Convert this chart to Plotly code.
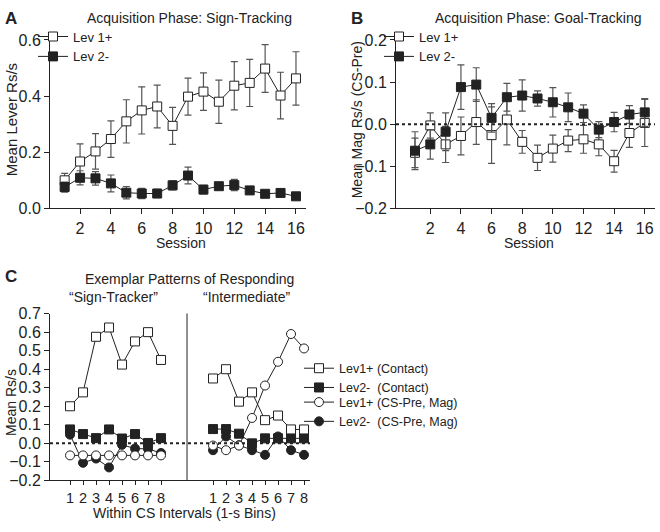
import plotly.graph_objects as go

W, H = 660, 532

# ---- Panel A: sign-tracking (mean lever Rs/s) ----
sessions = list(range(1, 17))
a_lev1 = [0.100, 0.167, 0.203, 0.247, 0.310, 0.349, 0.363, 0.294,
          0.398, 0.416, 0.380, 0.437, 0.447, 0.498, 0.402, 0.463]
a_lev1_err = [0.025, 0.063, 0.063, 0.065, 0.077, 0.084, 0.076, 0.066,
              0.066, 0.067, 0.077, 0.086, 0.084, 0.085, 0.083, 0.095]
a_lev2 = [0.076, 0.109, 0.107, 0.089, 0.056, 0.053, 0.053, 0.082,
          0.117, 0.067, 0.079, 0.083, 0.064, 0.052, 0.055, 0.043]
a_lev2_err = [0.018, 0.025, 0.024, 0.030, 0.022, 0.018, 0.015, 0.016,
              0.030, 0.015, 0.010, 0.020, 0.008, 0.010, 0.007, 0.005]

# ---- Panel B: goal-tracking (mean mag Rs/s, CS-Pre) ----
b_lev1 = [-0.068, -0.003, -0.048, -0.028, 0.005, -0.026, 0.011, -0.042,
          -0.080, -0.058, -0.039, -0.036, -0.048, -0.088, -0.021, 0.003]
b_lev1_err = [0.035, 0.030, 0.043, 0.045, 0.053, 0.067, 0.060, 0.027,
              0.030, 0.032, 0.026, 0.033, 0.027, 0.026, 0.034, 0.056]
b_lev2 = [-0.063, -0.048, -0.018, 0.088, 0.094, 0.015, 0.064, 0.068,
          0.061, 0.052, 0.040, 0.025, -0.013, 0.005, 0.023, 0.028]
b_lev2_err = [0.045, 0.035, 0.045, 0.053, 0.040, 0.034, 0.033, 0.037,
              0.018, 0.035, 0.034, 0.021, 0.019, 0.023, 0.021, 0.033]

# ---- Panel C: exemplar patterns (1-s bins) ----
bins = [1, 2, 3, 4, 5, 6, 7, 8]
group_offset = 11  # "Intermediate" block sits to the right of "Sign-Tracker"
st_lev1_contact = [0.20, 0.275, 0.575, 0.625, 0.425, 0.55, 0.60, 0.45]
st_lev2_contact = [0.075, 0.05, 0.028, 0.075, 0.026, 0.05, 0.002, 0.028]
st_lev1_mag = [-0.065, -0.065, -0.065, -0.065, -0.065, -0.065, -0.065, -0.065]
st_lev2_mag = [0.047, -0.105, -0.082, -0.13, -0.008, -0.028, -0.03, -0.052]
int_lev1_contact = [0.35, 0.40, 0.225, 0.275, 0.125, 0.15, 0.075, 0.075]
int_lev2_contact = [0.077, 0.077, 0.052, 0.0, 0.027, 0.027, 0.027, 0.027]
int_lev1_mag = [-0.012, -0.037, -0.012, 0.137, 0.312, 0.44, 0.59, 0.512]
int_lev2_mag = [-0.037, 0.037, -0.01, -0.037, -0.062, 0.037, -0.037, -0.062]

INK = "#222222"
ERR = "#555555"
FONT = "Liberation Sans, Arial, sans-serif"


def px_x(p):
    return p / W


def px_y(p):
    return 1 - p / H


def session_trace(y, err, filled, name, xa, ya, legend):
    return go.Scatter(
        x=sessions, y=y, name=name, mode="lines+markers",
        xaxis=xa, yaxis=ya, legend=legend, cliponaxis=False,
        line=dict(color=INK, width=1),
        marker=dict(symbol="square", size=9,
                    color=INK if filled else "white",
                    line=dict(color=INK, width=1)),
        error_y=dict(type="data", array=err, color=ERR, thickness=1.2, width=3.5),
    )


def c_trace(left, right, symbol, filled, name, legend, rank):
    xs = bins + [None] + [b + group_offset for b in bins]
    ys = left + [None] + right
    return go.Scatter(
        x=xs, y=ys, name=name, mode="lines+markers",
        xaxis="x3", yaxis="y3", legend=legend, legendrank=rank,
        cliponaxis=False, connectgaps=False,
        line=dict(color=INK, width=1),
        marker=dict(symbol=symbol, size=9,
                    color=INK if filled else "white",
                    line=dict(color=INK, width=1)),
    )


traces = [
    session_trace(a_lev1, a_lev1_err, False, "Lev 1+", "x", "y", "legend"),
    session_trace(a_lev2, a_lev2_err, True, "Lev 2-", "x", "y", "legend"),
    session_trace(b_lev1, b_lev1_err, False, "Lev 1+", "x2", "y2", "legend2"),
    session_trace(b_lev2, b_lev2_err, True, "Lev 2-", "x2", "y2", "legend2"),
    c_trace(st_lev2_mag, int_lev2_mag, "circle", True,
            "Lev2-\u00a0 (CS-Pre, Mag)", "legend4", 2),
    c_trace(st_lev1_mag, int_lev1_mag, "circle", False,
            "Lev1+ (CS-Pre, Mag)", "legend4", 1),
    c_trace(st_lev2_contact, int_lev2_contact, "square", True,
            "Lev2-\u00a0 (Contact)", "legend3", 2),
    c_trace(st_lev1_contact, int_lev1_contact, "square", False,
            "Lev1+ (Contact)", "legend3", 1),
]

fig = go.Figure(data=traces)

axis_common = dict(
    showline=True, linecolor=INK, linewidth=1, ticks="outside", ticklen=5,
    tickcolor=INK, tickwidth=1, showgrid=False, zeroline=False,
    tickfont=dict(size=16, color=INK, family=FONT),
)

legend_common = dict(
    bgcolor="rgba(0,0,0,0)", borderwidth=0, xanchor="left", yanchor="top",
    tracegroupgap=0, itemsizing="trace",
)

fig.update_layout(
    width=W, height=H,
    margin=dict(l=0, r=0, t=0, b=0),
    paper_bgcolor="white", plot_bgcolor="white",
    font=dict(family=FONT, color=INK, size=14),
    xaxis=dict(axis_common, domain=[px_x(50), px_x(306)], anchor="y",
               range=[0.05, 16.65], tickvals=[2, 4, 6, 8, 10, 12, 14, 16]),
    yaxis=dict(axis_common, domain=[px_y(207), px_y(33)], anchor="x",
               range=[0, 0.6], dtick=0.2, tickformat=".1f"),
    xaxis2=dict(axis_common, domain=[px_x(396), px_x(655)], anchor="y2",
                range=[-0.24, 16.67], tickvals=[2, 4, 6, 8, 10, 12, 14, 16]),
    yaxis2=dict(axis_common, domain=[px_y(207), px_y(33)], anchor="x2",
                range=[-0.2, 0.2], dtick=0.1, tickformat=".1f"),
    xaxis3=dict(axis_common, domain=[px_x(50), px_x(310)], anchor="y3",
                range=[-0.54, 19.46], ticklen=4,
                tickvals=bins + [b + group_offset for b in bins],
                ticktext=[str(b) for b in bins] * 2,
                tickfont=dict(size=14.5, color=INK, family=FONT)),
    yaxis3=dict(axis_common, domain=[px_y(488), px_y(315.7)], anchor="x3",
                range=[-0.2, 0.7], dtick=0.1, tickformat=".1f"),
    legend=dict(legend_common, x=px_x(33), y=px_y(14), font=dict(size=13)),
    legend2=dict(legend_common, x=px_x(379), y=px_y(14), font=dict(size=13)),
    legend3=dict(legend_common, x=px_x(299), y=px_y(357), font=dict(size=12.5)),
    legend4=dict(legend_common, x=px_x(299), y=px_y(392), font=dict(size=12.5)),
    showlegend=True,
)

# dotted zero lines and the divider between the two exemplar rats
fig.add_shape(type="line", xref="x2 domain", yref="y2", x0=0, x1=1, y0=0, y1=0,
              line=dict(color=INK, width=2, dash="dot"))
fig.add_shape(type="line", xref="x3 domain", yref="y3", x0=0, x1=1, y0=0, y1=0,
              line=dict(color=INK, width=2, dash="dot"))
divider = (bins[-1] + bins[0] + group_offset) / 2
fig.add_shape(type="line", xref="x3", yref="y3", x0=divider, x1=divider,
              y0=-0.2, y1=0.715, line=dict(color=INK, width=1))


def note(text, x, y, size=14, angle=0, bold=False, anchor="center"):
    fig.add_annotation(
        text=f"<b>{text}</b>" if bold else text,
        x=px_x(x), y=px_y(y), xref="paper", yref="paper",
        xanchor=anchor, yanchor="middle", showarrow=False, textangle=angle,
        font=dict(size=size, color=INK, family=FONT),
    )


note("A", 3, 11, size=17, bold=True, anchor="left")
note("B", 349, 11, size=17, bold=True, anchor="left")
note("C", 3, 277, size=17, bold=True, anchor="left")
note("Acquisition Phase: Sign-Tracking", 189, 10)
note("Acquisition Phase: Goal-Tracking", 538, 10)
note("Session", 181, 243)
note("Session", 529, 243)
note("Mean Lever Rs/s", 11, 116, size=15, angle=-90)
note("Mean Mag Rs/s (CS-Pre)", 357, 116, angle=-90)
note("Exemplar Patterns of Responding", 189, 280)
note("\u201cSign-Tracker\u201d", 113, 299)
note("\u201cIntermediate\u201d", 246, 299)
note("Mean Rs/s", 11, 408, angle=-90)
note("Within CS Intervals (1-s Bins)", 185, 522)

# the page body has a default 8px margin; drop it so the figure fills the window
fig.write_html("out.html", config={"displayModeBar": False},
               post_script="document.body.style.margin='0px';")
